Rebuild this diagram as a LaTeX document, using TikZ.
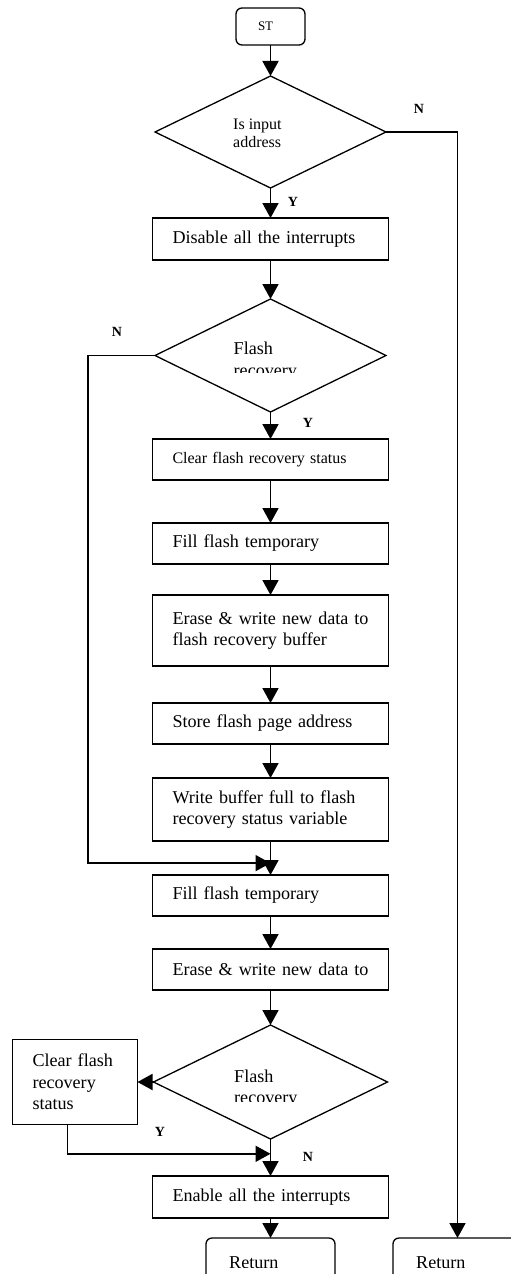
\documentclass[tikz,border=0pt]{standalone}
\usepackage{fontspec}
\setmainfont{Liberation Serif}
\usetikzlibrary{arrows.meta, positioning, calc, shapes.geometric}

\begin{document}
\begin{tikzpicture}[
  x=1pt, y=-1pt,
  box/.style={draw, line width=1.3pt, text width=196pt, inner xsep=20pt,
              inner ysep=0pt, outer sep=0pt, minimum height=41pt, align=left,
              font=\fontsize{18.1}{21.5}\selectfont},
  term/.style={box, rounded corners=6pt},
  dec/.style={draw, diamond, line width=1.3pt, inner sep=0pt, outer sep=0pt,
              minimum width=231pt, minimum height=112pt},
  dtxt/.style={inner sep=0pt, align=left, anchor=north west,
               font=\fontsize{18.1}{21.5}\selectfont},
  yn/.style={font=\fontsize{14}{16}\selectfont\bfseries},
  arrow/.style={-{Triangle[length=15pt, width=16pt]}, line width=1.8pt},
  node distance=34pt
]
\useasboundingbox (0,0) rectangle (511,1274);
\clip (0,0) rectangle (511,1274);

\node[term, text width=25pt, inner xsep=22pt, minimum height=37pt,
      font=\fontsize{13}{15}\selectfont] (st) at (270.5,26.5) {ST};

\node[dec, below=31pt of st] (d1) {};
\node[dtxt, font=\fontsize{16}{18.5}\selectfont] (d1t)
  at ($(d1)+(-37.5,-13.6)$) {Is input\\address};

\node[box, minimum height=42pt, below=30pt of d1] (dis)
  {Disable all the interrupts};

\node[dec, minimum height=113pt, below=39pt of dis] (d2) {};
\begin{scope}
  \clip ($(d2)+(-60,-30)$) rectangle ($(d2)+(60,16.5)$);
  \node[dtxt] (d2t) at ($(d2)+(-37,-13.5)$) {Flash\\recovery};
\end{scope}

\node[box, font=\fontsize{16}{19}\selectfont, below=27pt of d2] (clr)
  {Clear flash recovery status};
\node[box, below=43pt of clr] (fill) {Fill flash temporary};
\node[box, minimum height=71pt, below=31pt of fill] (erase)
  {\mbox{Erase \& write new data to}\\flash recovery buffer};
\node[box, below=37pt of erase] (store) {Store flash page address};
\node[box, minimum height=63pt, below=34pt of store] (write)
  {Write buffer full to flash\\recovery status variable};
\node[box, below=34pt of write] (fill2) {Fill flash temporary};
\node[box, below=33pt of fill2] (erase2) {\mbox{Erase \& write new data to}};

\node[dec, minimum width=234pt, minimum height=114pt, below=35pt of erase2] (d3) {};
\begin{scope}
  \clip ($(d3)+(-60,-30)$) rectangle ($(d3)+(60,19)$);
  \node[dtxt] (d3t) at ($(d3)+(-36.5,-12.6)$) {Flash\\recovery};
\end{scope}

\node[box, text width=85pt, minimum height=85pt, left=16pt of d3] (clrs)
  {Clear flash\\recovery\\status};

\node[box, minimum height=42pt, below=37pt of d3] (enable)
  {Enable all the interrupts};

% return boxes, text cut short inside them
\node[term, text width=83pt, inner xsep=23pt, minimum height=51pt,
      below=20pt of enable] (ret1) {};
\node[term, text width=83pt, inner xsep=23pt, minimum height=51pt,
      right=58pt of ret1] (ret2) {};
\begin{scope}
  \clip ($(ret1.north west)+(5,5)$) rectangle ($(ret2.north east)+(-5,29)$);
  \node[dtxt] (ret1t) at ($(ret1.north west)+(23,18)$) {Return};
  \node[dtxt] (ret2t) at ($(ret2.north west)+(23,18)$) {Return};
\end{scope}

% main chain
\draw[arrow] (st) -- (d1);
\draw[arrow] (d1) -- (dis);
\draw[arrow] (dis) -- (d2);
\draw[arrow] (d2) -- (clr);
\draw[arrow] (clr) -- (fill);
\draw[arrow] (fill) -- (erase);
\draw[arrow] (erase) -- (store);
\draw[arrow] (store) -- (write);
\draw[arrow] (write) -- (fill2);
\draw[arrow] (fill2) -- (erase2);
\draw[arrow] (erase2) -- (d3);
\draw[arrow] (d3) -- (enable);
\draw[arrow] (enable) -- (ret1);

% branches
\draw[arrow] (d1.east) -| (ret2.north);
\node[yn] (n1) at ($(d1.east)+(33,-23)$) {N};
\node[yn] (y1) at ($(d1.south)+(22.5,14)$) {Y};

\coordinate (j1) at ($(write.south)!0.65!(fill2.north)$);
\draw[arrow] (d2.west) -- ++(-67,0) |- (j1);
\node[yn] (n2) at ($(d2.west)+(-38,-23.5)$) {N};
\node[yn] (y2) at ($(d2.south)+(37.5,11)$) {Y};

\coordinate (j2) at ($(d3.south)!0.4!(enable.north)$);
\draw[arrow] (d3.west) -- (clrs.east);
\draw[arrow] ([xshift=-7.5pt]clrs.south) |- (j2);
\node[yn] (y3) at ($(d3.west)+(6.5,49.5)$) {Y};
\node[yn] (n3) at ($(d3.south)+(37.5,18)$) {N};

\end{tikzpicture}
\end{document}
